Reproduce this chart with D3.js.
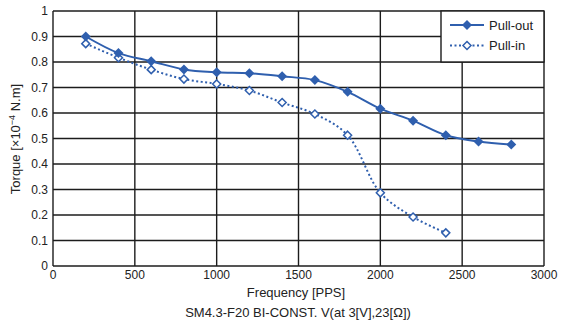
<!DOCTYPE html>
<html>
<head>
<meta charset="utf-8">
<script src="https://cdn.jsdelivr.net/npm/d3@7"></script>
<style>
  body { margin: 0; background: #fff; }
  svg { display: block; font-family: "Liberation Sans", Arial, sans-serif; }
</style>
</head>
<body>
<svg id="chart" width="565" height="324"></svg>
<script>
// Torque curves, sampled every 200 PPS
const pullOutFreq = [200, 400, 600, 800, 1000, 1200, 1400, 1600, 1800, 2000, 2200, 2400, 2600, 2800];
const pullOutTorque = [0.900, 0.835, 0.803, 0.771, 0.760, 0.756, 0.744, 0.729, 0.683, 0.617, 0.570, 0.513, 0.488, 0.476];
const pullInFreq = [200, 400, 600, 800, 1000, 1200, 1400, 1600, 1800, 2000, 2200, 2400];
const pullInTorque = [0.872, 0.817, 0.770, 0.733, 0.714, 0.688, 0.641, 0.596, 0.513, 0.287, 0.192, 0.130];

const xTicks = [0, 500, 1000, 1500, 2000, 2500, 3000];
const yTicks = [0, 0.1, 0.2, 0.3, 0.4, 0.5, 0.6, 0.7, 0.8, 0.9, 1];

const blue = "#2f5fae";
const gridColor = "#1c1c1c";

const svg = d3.select("#chart");

const x = d3.scaleLinear().domain([0, 3000]).range([53, 544]);
const y = d3.scaleLinear().domain([0, 1]).range([266, 11]);

// Grid lines
svg.append("g")
  .selectAll("line")
  .data(yTicks)
  .join("line")
  .attr("x1", x(0)).attr("x2", x(3000))
  .attr("y1", d => y(d)).attr("y2", d => y(d))
  .attr("stroke", gridColor).attr("stroke-width", 1.4);

svg.append("g")
  .selectAll("line")
  .data(xTicks)
  .join("line")
  .attr("x1", d => x(d)).attr("x2", d => x(d))
  .attr("y1", y(0)).attr("y2", y(1))
  .attr("stroke", gridColor).attr("stroke-width", 1.4);

// Tick labels
svg.append("g")
  .selectAll("text")
  .data(yTicks)
  .join("text")
  .attr("x", 48)
  .attr("y", d => y(d))
  .attr("dy", "0.35em")
  .attr("text-anchor", "end")
  .attr("font-size", 12)
  .attr("fill", "#222")
  .text(d => d3.format("~g")(d));

svg.append("g")
  .selectAll("text")
  .data(xTicks)
  .join("text")
  .attr("x", d => x(d))
  .attr("y", 279)
  .attr("text-anchor", "middle")
  .attr("font-size", 12)
  .attr("fill", "#222")
  .text(d => d);

// Axis titles
svg.append("text")
  .attr("x", 296).attr("y", 297)
  .attr("text-anchor", "middle")
  .attr("font-size", 13)
  .attr("fill", "#222")
  .text("Frequency [PPS]");

svg.append("text")
  .attr("x", 298).attr("y", 317)
  .attr("text-anchor", "middle")
  .attr("font-size", 13)
  .attr("fill", "#222")
  .text("SM4.3-F20 BI-CONST. V(at 3[V],23[Ω])");

const yTitle = svg.append("text")
  .attr("transform", "translate(20,139) rotate(-90)")
  .attr("text-anchor", "middle")
  .attr("font-size", 13)
  .attr("fill", "#222");
yTitle.append("tspan").text("Torque [×10");
yTitle.append("tspan").attr("dy", -5).attr("font-size", 9).text("−4");
yTitle.append("tspan").attr("dy", 5).text(" N.m]");

// Curves
const pullOut = pullOutFreq.map((f, i) => [f, pullOutTorque[i]]);
const pullIn = pullInFreq.map((f, i) => [f, pullInTorque[i]]);

const line = d3.line()
  .x(d => x(d[0]))
  .y(d => y(d[1]))
  .curve(d3.curveCatmullRom.alpha(0.5));

const diamond = r => `M0,${-r}L${r},0L0,${r}L${-r},0Z`;

svg.append("path")
  .datum(pullIn)
  .attr("d", line)
  .attr("fill", "none")
  .attr("stroke", blue)
  .attr("stroke-width", 2)
  .attr("stroke-dasharray", "2,2.5");

svg.append("path")
  .datum(pullOut)
  .attr("d", line)
  .attr("fill", "none")
  .attr("stroke", blue)
  .attr("stroke-width", 2);

svg.append("g")
  .selectAll("path")
  .data(pullIn)
  .join("path")
  .attr("transform", d => `translate(${x(d[0])},${y(d[1])})`)
  .attr("d", diamond(4))
  .attr("fill", "#fff")
  .attr("stroke", blue)
  .attr("stroke-width", 1.5);

svg.append("g")
  .selectAll("path")
  .data(pullOut)
  .join("path")
  .attr("transform", d => `translate(${x(d[0])},${y(d[1])})`)
  .attr("d", diamond(5))
  .attr("fill", blue);

// Legend
const legend = svg.append("g");
legend.append("rect")
  .attr("x", 441).attr("y", 11)
  .attr("width", 103).attr("height", 51)
  .attr("fill", "#fff")
  .attr("stroke", gridColor).attr("stroke-width", 1.4);

const entries = [
  { name: "Pull-out", dash: null, fill: blue, r: 5, sw: 0 },
  { name: "Pull-in", dash: "2,2.5", fill: "#fff", r: 4, sw: 1.5 }
];
entries.forEach((e, i) => {
  const ly = 25 + i * 20.5;
  legend.append("line")
    .attr("x1", 450).attr("x2", 484)
    .attr("y1", ly).attr("y2", ly)
    .attr("stroke", blue).attr("stroke-width", 2)
    .attr("stroke-dasharray", e.dash);
  legend.append("path")
    .attr("transform", `translate(467,${ly})`)
    .attr("d", diamond(e.r))
    .attr("fill", e.fill)
    .attr("stroke", e.sw ? blue : null)
    .attr("stroke-width", e.sw);
  legend.append("text")
    .attr("x", 489).attr("y", ly)
    .attr("dy", "0.35em")
    .attr("font-size", 13)
    .attr("fill", "#222")
    .text(e.name);
});
</script>
</body>
</html>
